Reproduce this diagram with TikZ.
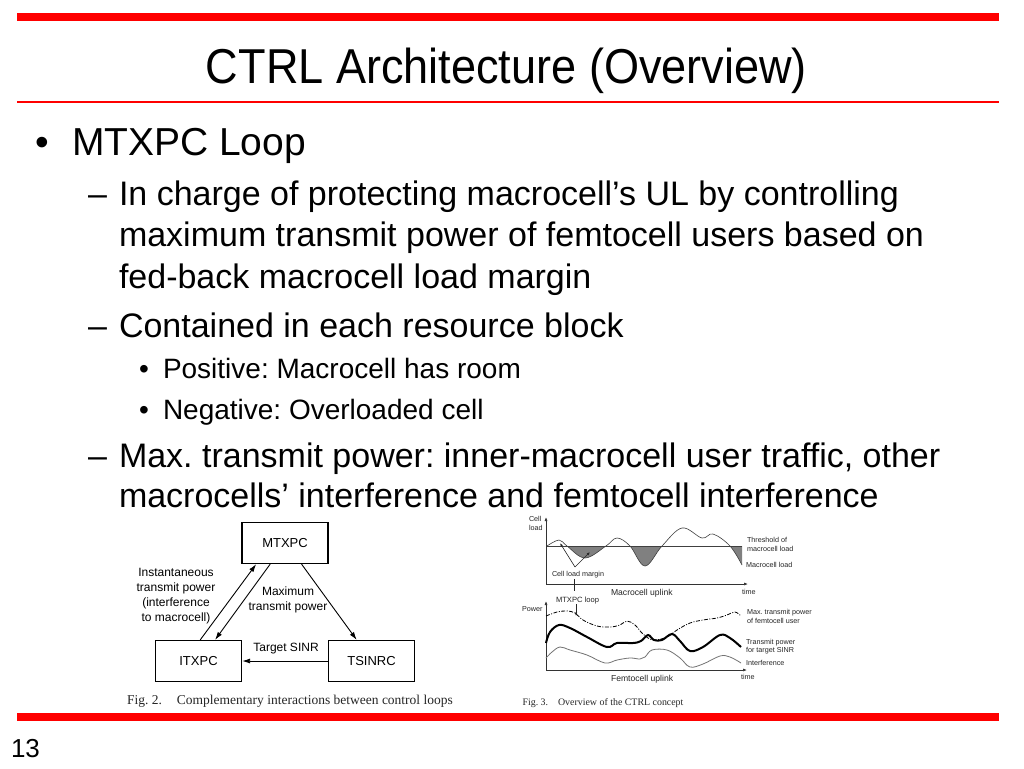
\documentclass[tikz,border=0pt]{standalone}
\usepackage{graphicx}
\usepackage{fontspec}
\setmainfont{Liberation Sans}
\newfontfamily\capfont{Liberation Serif}
\newfontfamily\titlefont[FakeStretch=0.92]{Liberation Sans}
\usetikzlibrary{arrows.meta,calc}
\frenchspacing
\begin{document}
\begin{tikzpicture}[x=1pt,y=-1pt,
  txt/.style={anchor=base west,inner sep=0pt,outer sep=0pt},
  lvlone/.style={txt,font=\fontsize{39}{47}\selectfont},
  lvltwo/.style={txt,font=\fontsize{34}{41}\selectfont},
  lvlthree/.style={txt,font=\fontsize{28}{34}\selectfont},
  loopbox/.style={draw,line width=1.3pt,minimum width=86pt,minimum height=41pt,inner sep=0pt,font=\fontsize{13}{15}\selectfont},
  looplbl/.style={align=center,inner sep=0pt,font=\fontsize{12}{15}\selectfont},
  looparr/.style={line width=0.9pt,-{Latex[length=8pt,width=5pt]}},
  tiny/.style={txt,font=\fontsize{7.2}{8.5}\selectfont,text=black!85},
  axlbl/.style={txt,font=\fontsize{8.6}{10}\selectfont,text=black!85},
  axarr/.style={line width=0.7pt,black!80,-{Latex[length=4pt,width=3pt]}},
  smallarr/.style={line width=0.6pt,black!85,-{Latex[length=3.5pt,width=2.5pt]}},
  capt/.style={anchor=base,inner sep=0pt,text=black!85}
]
\fill[white] (0,0) rectangle (1024,768);
\useasboundingbox (0,0) rectangle (1024,768);

% red rules
\fill[red] (17,13) rectangle (999,21);
\draw[red,line width=2pt] (17,102) -- (999,102);
\fill[red] (17,713) rectangle (999,721);

% title
\node[anchor=base,inner sep=0pt] (title) at (506.5,83) {\titlefont\fontsize{49}{58}\selectfont CTRL Architecture (Overview)};

% body text
\node[lvlone] (b1) at (35,155) {•};
\node[lvlone] (t1) at (72,155) {MTXPC Loop};
\node[lvltwo] (d1) at (88,205) {–};
\node[lvltwo] (t2a) at (119,205) {In charge of protecting macrocell’s UL by controlling};
\node[lvltwo] (t2b) at (119,246) {maximum transmit power of femtocell users based on};
\node[lvltwo] (t2c) at (119,288) {fed-back macrocell load margin};
\node[lvltwo] (d2) at (88,337) {–};
\node[lvltwo] (t3) at (119,337) {Contained in each resource block};
\node[lvlthree] (b3a) at (139,378) {•};
\node[lvlthree] (t3a) at (163,378) {Positive: Macrocell has room};
\node[lvlthree] (b3b) at (139,419) {•};
\node[lvlthree] (t3b) at (163,419) {Negative: Overloaded cell};
\node[lvltwo] (d3) at (88,467) {–};
\node[lvltwo] (t4a) at (119,467) {Max. transmit power: inner-macrocell user traffic, other};
\node[lvltwo] (t4b) at (119,507) {macrocells’ interference and femtocell interference};

% ---- Fig. 2
\node[loopbox] (mtxpc) at (285,543) {MTXPC};
\node[loopbox] (itxpc) at (198.5,661) {ITXPC};
\node[loopbox] (tsinrc) at (371.5,661) {TSINRC};
\draw[looparr] ($(itxpc.north west)!0.52!(itxpc.north east)$) -- ($(mtxpc.south west)!0.17!(mtxpc.south east)$);
\draw[looparr] ($(mtxpc.south west)!0.33!(mtxpc.south east)$) -- ($(itxpc.north west)!0.69!(itxpc.north east)$);
\draw[looparr] ($(mtxpc.south west)!0.69!(mtxpc.south east)$) -- ($(tsinrc.north west)!0.33!(tsinrc.north east)$);
\draw[looparr] (tsinrc.west) -- (itxpc.east);
\node[looplbl] (linst) at (176,596.5) {Instantaneous\\transmit power\\(interference\\to macrocell)};
\node[looplbl] (lmax) at (288,599.5) {Maximum\\transmit power};
\node[looplbl,anchor=base] (ltgt) at (286,651) {Target SINR};
\node[capt,font=\capfont\fontsize{13.5}{15}\selectfont] (cap2) at (290,704) {Fig.~2.\hspace{1.1em}Complementary interactions between control loops};

% ---- Fig. 3 top: macrocell uplink
\begin{scope}
\clip (546,546) rectangle (746,580);
\fill[black!50] plot[smooth,tension=0.6] coordinates {(547,546) (559,540) (567,546) (585,558) (606,546) (617,538) (630,546) (645,566) (662,546) (682,528) (702,538) (713,534) (730,546) (742,565)} -- (742,546) -- cycle;
\end{scope}
\draw[black!75,line width=0.6pt] (546,546) -- (742,546);
\draw[black!75,line width=0.6pt] plot[smooth,tension=0.6] coordinates {(547,546) (559,540) (567,546) (585,558) (606,546) (617,538) (630,546) (645,566) (662,546) (682,528) (702,538) (713,534) (730,546) (742,565)};
\coordinate (o1) at (546,584);
\coordinate (y1) at (546,517);
\coordinate (x1) at (748,584);
\draw[axarr] (o1) -- (y1);
\draw[axarr] (o1) -- (x1);
\node[tiny] (cell) at (529,521) {Cell};
\node[tiny] (load) at (529,530) {load};
\node[tiny] (thr1) at (747,542.5) {Threshold of};
\node[tiny] (thr2) at (747,551.5) {macrocell load};
\node[tiny] (mload) at (746,567.5) {Macrocell load};
\node[tiny] (clm) at (552,576) {Cell load margin};
\coordinate (apex) at (575,567);
\coordinate (m1) at (560,543);
\coordinate (m2) at (590,552);
\draw[smallarr] (apex) -- (m1);
\draw[smallarr] (apex) -- (m2);
\coordinate (vl1) at (574.5,579);
\coordinate (vl2) at (574.5,591);
\draw[black!85,line width=0.6pt] (vl1) -- (vl2);
\node[axlbl] (mul) at (611,595) {Macrocell uplink};
\node[tiny] (time1) at (742,594.5) {time};
\node[tiny,font=\fontsize{7.6}{9}\selectfont] (mloop) at (556,602.5) {MTXPC loop};
\coordinate (ml1) at (576,604);
\coordinate (ml2) at (576,616);
\draw[smallarr] (ml1) -- (ml2);

% ---- Fig. 3 bottom: femtocell uplink
\coordinate (o2) at (546,670);
\coordinate (y2) at (546,601);
\coordinate (x2) at (747,670);
\draw[axarr] (o2) -- (y2);
\draw[axarr] (o2) -- (x2);
\node[tiny] (power) at (522,611.5) {Power};
\draw[black,line width=0.8pt,dash pattern=on 4pt off 1.5pt on 1pt off 1.5pt] plot[smooth,tension=0.6] coordinates {(546,616) (557,612) (567,611) (575,613) (583,620) (597,626) (610,627) (620,625) (627,621) (635,625) (643,634) (653,640) (667,637) (677,630) (690,623) (703,620) (717,618) (727,615) (735,612) (741,616)};
\draw[black,line width=2pt] plot[smooth,tension=0.6] coordinates {(546,643) (550,632) (559,625) (570,628) (587,637) (607,647) (617,643) (633,643) (641,641) (648,635) (654,640) (662,640) (672,634) (680,641) (690,651) (703,647) (720,635) (730,638) (741,647)};
\draw[black!55,line width=0.8pt] plot[smooth,tension=0.6] coordinates {(546,658) (552,652) (560,647) (570,650) (587,655) (605,663) (617,660) (630,658) (640,659) (645,657) (652,650) (667,650) (680,658) (690,667) (703,664) (720,656) (730,657) (741,663)};
\node[tiny] (mx1) at (747,614.5) {Max. transmit power};
\node[tiny] (mx2) at (747,623.5) {of femtocell user};
\node[tiny] (tp1) at (746,644.5) {Transmit power};
\node[tiny] (tp2) at (746,652.5) {for target SINR};
\node[tiny] (intf) at (746,665.5) {Interference};
\node[axlbl] (ful) at (611,681) {Femtocell uplink};
\node[tiny] (time2) at (741,679.5) {time};
\node[capt,font=\capfont\fontsize{9.9}{11}\selectfont] (cap3) at (603,705.5) {Fig.~3.\hspace{1em}Overview of the CTRL concept};

% page number
\node[txt,font=\fontsize{26}{30}\selectfont] (pnum) at (11,757) {13};
\end{tikzpicture}
\end{document}
